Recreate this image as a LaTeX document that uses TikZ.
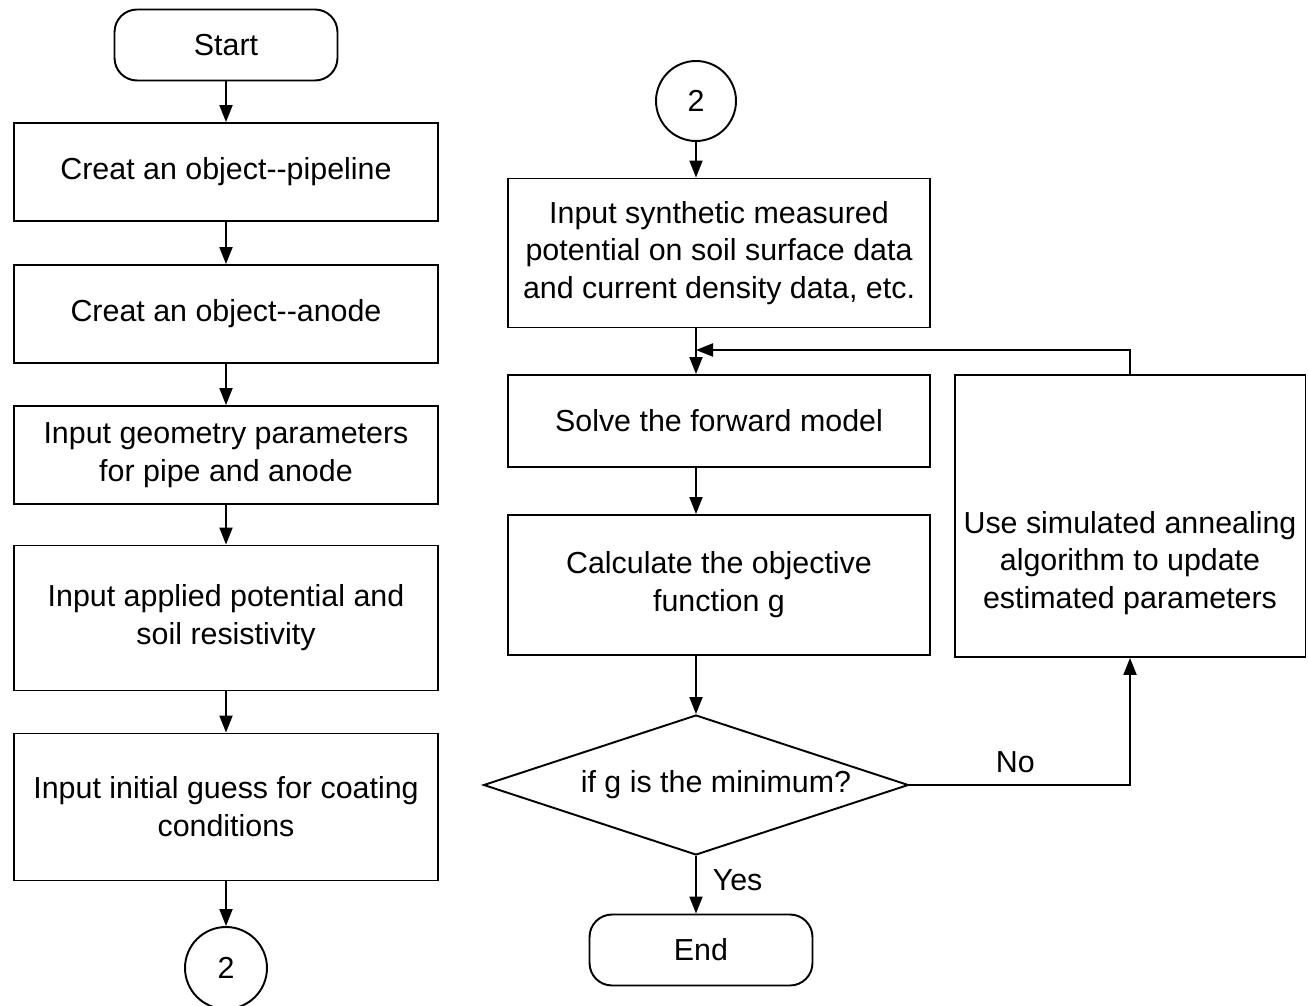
\documentclass[tikz,border=0pt]{standalone}
\usepackage{fontspec}
\setmainfont{Liberation Sans}
\usetikzlibrary{shapes.geometric, arrows.meta, positioning}

\begin{document}
\begin{tikzpicture}[x=0.02cm, y=-0.02cm,
  every node/.style={font=\fontsize{17.3pt}{21.5pt}\selectfont},
  process/.style={draw, line width=1.1pt, minimum width=8.5cm, align=center, inner sep=0pt},
  terminal/.style={draw, line width=1.1pt, rounded corners=0.45cm, minimum width=4.46cm, minimum height=1.42cm},
  onpage/.style={draw, circle, line width=1.1pt, minimum size=1.6cm, inner sep=0pt},
  decision/.style={draw, diamond, aspect=3.04, line width=1.1pt, minimum width=8.5cm, minimum height=2.8cm, inner sep=0pt},
  flow/.style={line width=1.1pt, -{Triangle[length=0.34cm, width=0.26cm]}}]
\def\xl{226}
\def\xr{696}
\useasboundingbox (0,0) rectangle (1308,1006);

% Left column: set-up of the model
\node[terminal] (start) at (\xl,45) {Start};
\node[process, minimum height=1.96cm] (pipe) at (\xl,172) {Creat an object-{}-pipeline};
\node[process, minimum height=1.96cm] (anode) at (\xl,314) {Creat an object-{}-anode};
\node[process, minimum height=1.96cm] (geom) at (\xl,455) {Input geometry parameters\\for pipe and anode};
\node[process, minimum height=2.9cm] (soil) at (\xl,618) {Input applied potential and\\soil resistivity};
\node[process, minimum height=2.94cm] (guess) at (\xl,807) {Input initial guess for coating\\conditions};
\node[onpage, minimum size=1.64cm] (go) at (\xl,968) {2};

\draw[flow] (start) -- (pipe);
\draw[flow] (pipe) -- (anode);
\draw[flow] (anode) -- (geom);
\draw[flow] (geom) -- (soil);
\draw[flow] (soil) -- (guess);
\draw[flow] (guess) -- (go);

% Right column: inversion loop
\node[onpage] (back) at (\xr,101) {2};
\node[process, minimum width=8.44cm, minimum height=2.98cm] (meas) at (719,253) {Input synthetic measured\\potential on soil surface data\\and current density data, etc.};
\node[process, minimum width=8.44cm, minimum height=1.84cm] (solve) at (719,421) {Solve the forward model};
\node[process, minimum width=8.44cm, minimum height=2.8cm] (objfun) at (719,585) {Calculate the objective\\function g};
\node[decision] (test) at (\xr,785) {\hspace{0.8cm}if g is the minimum?};
\node[terminal] (stop) at (701,950) {End};
\node[process, minimum width=7.02cm, minimum height=5.64cm] (update) at (1130,516) {};
\node[align=center] (updtext) at (1130,563) {Use simulated annealing\\algorithm to update\\estimated parameters};
\coordinate (join) at (\xr,350);

\draw[flow] (back) -- (back |- meas.north);
\draw[flow] (meas.south -| back) -- (solve.north -| back);
\draw[flow] (solve.south -| back) -- (objfun.north -| back);
\draw[flow] (objfun.south -| back) -- (test);
\draw[flow] (test.south) -- (test.south |- stop.north) node[pos=0.42, right=0.2cm] {Yes};
\draw[flow] (test.east) -| (update.south) node[pos=0.24, above=0.1cm] {No};
\draw[flow] (update.north) |- (join);
\end{tikzpicture}
\end{document}
